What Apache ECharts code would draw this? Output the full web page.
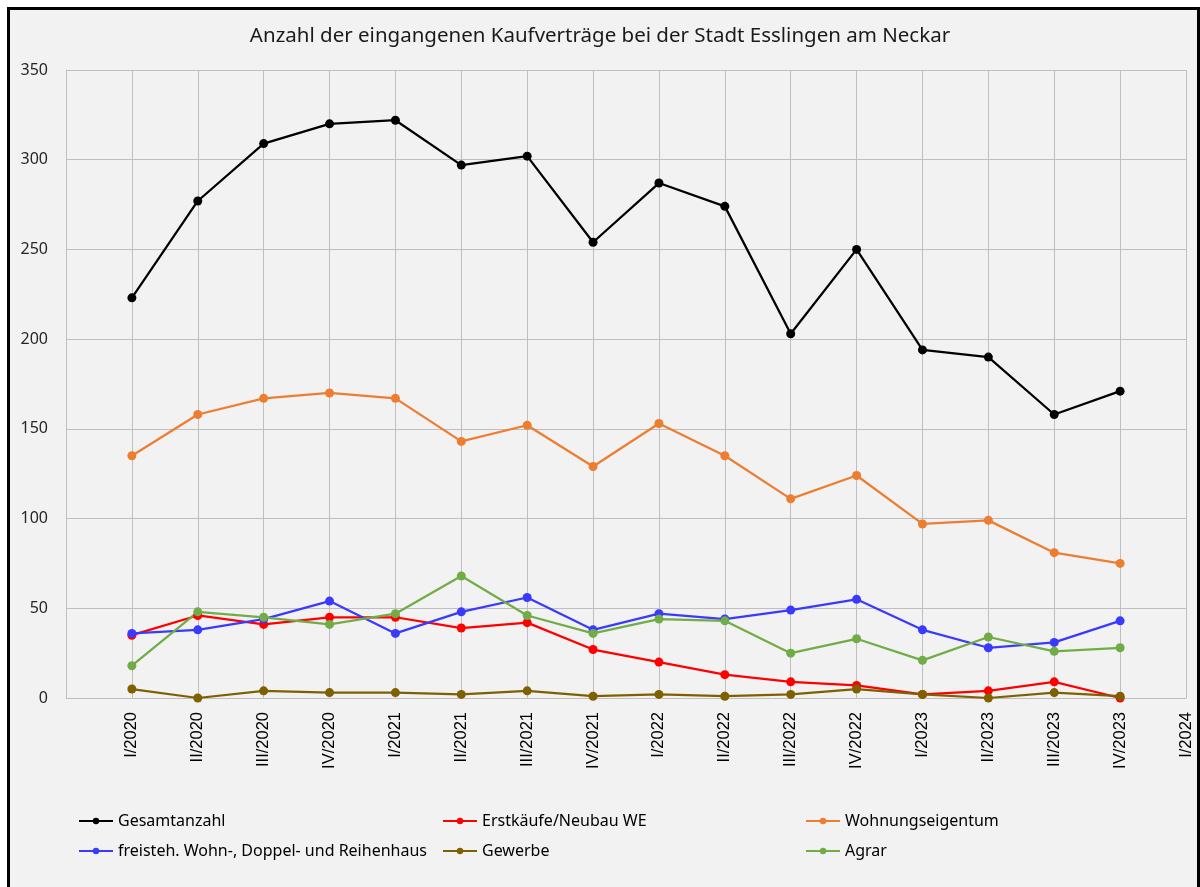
<!DOCTYPE html>
<html>
<head>
<meta charset="utf-8">
<script src="https://cdn.jsdelivr.net/npm/echarts@6/dist/echarts.min.js"></script>
<style>
  html, body { margin: 0; padding: 0; background: #fff; }
  #frame { position: absolute; left: 7px; top: 7px; width: 1187px; height: 890px; border: 3px solid #000; background: #f2f2f2; }
  #chart { position: absolute; left: 0; top: 0; width: 1200px; height: 887px; }
</style>
</head>
<body>
<div id="frame"></div>
<div id="chart"></div>
<script>
var quarters = ['I/2020','II/2020','III/2020','IV/2020','I/2021','II/2021','III/2021','IV/2021',
                'I/2022','II/2022','III/2022','IV/2022','I/2023','II/2023','III/2023','IV/2023','I/2024'];
var yTicks = [0, 50, 100, 150, 200, 250, 300, 350];

var gesamt      = [223, 277, 309, 320, 322, 297, 302, 254, 287, 274, 203, 250, 194, 190, 158, 171];
var erstkaeufe  = [35, 46, 41, 45, 45, 39, 42, 27, 20, 13, 9, 7, 2, 4, 9, 0];
var wohnung     = [135, 158, 167, 170, 167, 143, 152, 129, 153, 135, 111, 124, 97, 99, 81, 75];
var freisteh    = [36, 38, 44, 54, 36, 48, 56, 38, 47, 44, 49, 55, 38, 28, 31, 43];
var gewerbe     = [5, 0, 4, 3, 3, 2, 4, 1, 2, 1, 2, 5, 2, 0, 3, 1];
var agrar       = [18, 48, 45, 41, 47, 68, 46, 36, 44, 43, 25, 33, 21, 34, 26, 28];

var chart = echarts.init(document.getElementById('chart'));

// first slot of the axis is an empty position (left edge of the plot)
function withLead(arr) { return [null].concat(arr); }

function line(name, color, data) {
    return {
        name: name,
        type: 'line',
        data: withLead(data),
        symbol: 'circle',
        symbolSize: 9,
        color: color,
        lineStyle: { width: 2.25, color: color },
        itemStyle: { color: color }
    };
}

var legendText = { fontFamily: 'Noto Sans', fontSize: 16, color: '#000' };
function legendCol(left, names) {
    return { orient: 'vertical', left: left, top: 808, itemGap: 14, itemWidth: 34, itemHeight: 8,
             data: names, textStyle: legendText };
}

var option = {
    animation: false,
    backgroundColor: 'transparent',
    title: {
        text: 'Anzahl der eingangenen Kaufverträge bei der Stadt Esslingen am Neckar',
        left: 'center',
        top: 21,
        textStyle: { fontFamily: 'Noto Sans', fontWeight: 'normal', fontSize: 20.5, color: '#1a1a1a' }
    },
    grid: { left: 66, right: 14, top: 70, bottom: 189, containLabel: false },
    xAxis: {
        type: 'category',
        boundaryGap: false,
        data: [''].concat(quarters),
        axisLine: { show: true, lineStyle: { color: '#bfbfbf' } },
        axisTick: { show: false },
        axisLabel: { rotate: 90, interval: 0, margin: 14, fontFamily: 'Liberation Sans', fontSize: 16.5, color: '#000' },
        splitLine: { show: true, lineStyle: { color: '#bfbfbf', width: 1 } }
    },
    yAxis: {
        type: 'value',
        min: yTicks[0],
        max: yTicks[yTicks.length - 1],
        interval: 50,
        axisLine: { show: true, lineStyle: { color: '#bfbfbf' } },
        axisTick: { show: false },
        axisLabel: { margin: 18, fontFamily: 'Noto Sans', fontSize: 16, color: '#262626' },
        splitLine: { show: true, lineStyle: { color: '#bfbfbf', width: 1 } }
    },
    legend: [
        legendCol(73, ['Gesamtanzahl', 'freisteh. Wohn-, Doppel- und Reihenhaus']),
        legendCol(437, ['Erstkäufe/Neubau WE', 'Gewerbe']),
        legendCol(800, ['Wohnungseigentum', 'Agrar'])
    ],
    series: [
        line('Gesamtanzahl', '#000000', gesamt),
        line('Erstkäufe/Neubau WE', '#ff0000', erstkaeufe),
        line('Wohnungseigentum', '#ed7d31', wohnung),
        line('freisteh. Wohn-, Doppel- und Reihenhaus', '#3a3aff', freisteh),
        line('Gewerbe', '#7f6000', gewerbe),
        line('Agrar', '#70ad47', agrar)
    ]
};
chart.setOption(option);
</script>
</body>
</html>
